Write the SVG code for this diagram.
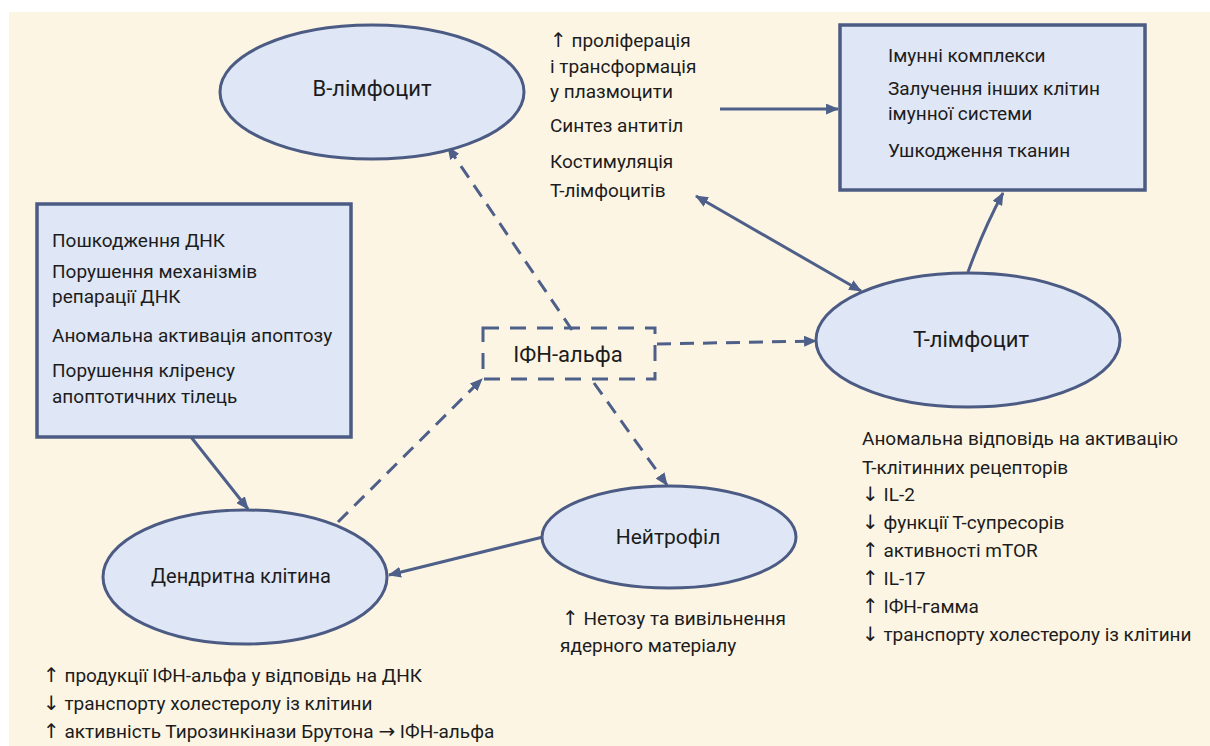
<svg xmlns="http://www.w3.org/2000/svg" width="1210" height="746" viewBox="0 0 1210 746">
<defs>
<style>
.t{font-family:Roboto,"Liberation Sans",Arial,sans-serif;font-size:19px;fill:#1c1c1c}
.lbl{font-family:Roboto,"Liberation Sans",Arial,sans-serif;font-size:22px;fill:#1c1c1c;text-anchor:middle}
.ar{font-family:"DejaVu Sans",sans-serif;font-size:20px;fill:#1c1c1c}
.node{fill:#dfe6f5;stroke:#4b5b83;stroke-width:3}
.box{fill:#dfe6f5;stroke:#4b5b83;stroke-width:3.5}
.c{fill:none;stroke:#4e6089;stroke-width:3}
.d{fill:none;stroke:#4e6089;stroke-width:3;stroke-dasharray:14 9}
</style>
<marker id="ah" viewBox="0 0 12 10" refX="11" refY="5" markerWidth="13" markerHeight="11" markerUnits="userSpaceOnUse" orient="auto-start-reverse">
<path d="M0,0 L12,5 L0,10 Z" fill="#4e6089"/>
</marker>
</defs>
<rect x="0" y="0" width="1210" height="746" fill="#ffffff"/>
<rect x="9" y="12" width="1201" height="734" fill="#fdf5e4"/>

<g id="connectors">
<line class="c" x1="720" y1="109" x2="838" y2="109" marker-end="url(#ah)"/>
<line class="c" x1="696" y1="196" x2="861" y2="291" marker-start="url(#ah)" marker-end="url(#ah)"/>
<path class="c" d="M968,272 Q984,228 1003,193" marker-end="url(#ah)"/>
<line class="c" x1="191" y1="437" x2="248" y2="509" marker-end="url(#ah)"/>
<line class="c" x1="543" y1="537" x2="389" y2="575" marker-end="url(#ah)"/>
<line class="d" x1="572" y1="330" x2="448" y2="147" marker-end="url(#ah)"/>
<line class="d" x1="657" y1="344" x2="816" y2="341" marker-end="url(#ah)"/>
<line class="d" x1="594" y1="383" x2="667" y2="485" marker-end="url(#ah)"/>
<line class="d" x1="338" y1="522" x2="482" y2="379" marker-end="url(#ah)"/>
</g>

<g id="b-lymphocyte">
<ellipse class="node" cx="372" cy="92" rx="152" ry="67"/>
<text class="lbl" x="372" y="96">В-лімфоцит</text>
</g>

<g id="b-effects">
<text class="t" x="550" y="47"><tspan class="ar">↑</tspan> проліферація</text>
<text class="t" x="550" y="73">і трансформація</text>
<text class="t" x="550" y="98">у плазмоцити</text>
<text class="t" x="550" y="132">Синтез антитіл</text>
<text class="t" x="550" y="168">Костимуляція</text>
<text class="t" x="550" y="197">Т-лімфоцитів</text>
</g>

<g id="damage-box">
<rect class="box" x="840" y="25" width="305" height="165"/>
<text class="t" x="888" y="62">Імунні комплекси</text>
<text class="t" x="888" y="95">Залучення інших клітин</text>
<text class="t" x="888" y="120">імунної системи</text>
<text class="t" x="888" y="157">Ушкодження тканин</text>
</g>

<g id="dna-box">
<rect class="box" x="37" y="204" width="314" height="233"/>
<text class="t" x="52" y="247">Пошкодження ДНК</text>
<text class="t" x="52" y="278">Порушення механізмів</text>
<text class="t" x="52" y="303">репарації ДНК</text>
<text class="t" x="52" y="342">Аномальна активація апоптозу</text>
<text class="t" x="52" y="377">Порушення кліренсу</text>
<text class="t" x="52" y="403">апоптотичних тілець</text>
</g>

<g id="ifn-alpha">
<rect x="483" y="328" width="172" height="51" fill="none" stroke="#4e6089" stroke-width="3" stroke-dasharray="16 11"/>
<text class="lbl" x="568" y="362">ІФН-альфа</text>
</g>

<g id="t-lymphocyte">
<ellipse class="node" cx="968" cy="340" rx="152" ry="67"/>
<text class="lbl" x="971" y="347">Т-лімфоцит</text>
</g>

<g id="t-effects">
<text class="t" x="862" y="445">Аномальна відповідь на активацію</text>
<text class="t" x="862" y="474">Т-клітинних рецепторів</text>
<text class="t" x="862" y="501"><tspan class="ar">↓</tspan> IL-2</text>
<text class="t" x="862" y="529"><tspan class="ar">↓</tspan> функції Т-супресорів</text>
<text class="t" x="862" y="557"><tspan class="ar">↑</tspan> активності mTOR</text>
<text class="t" x="862" y="585"><tspan class="ar">↑</tspan> IL-17</text>
<text class="t" x="862" y="613"><tspan class="ar">↑</tspan> ІФН-гамма</text>
<text class="t" x="862" y="641"><tspan class="ar">↓</tspan> транспорту холестеролу із клітини</text>
</g>

<g id="neutrophil">
<ellipse class="node" cx="669" cy="537" rx="127" ry="51"/>
<text class="lbl" x="668" y="544" style="font-size:21px">Нейтрофіл</text>
</g>

<g id="neutrophil-effects">
<text class="t" x="562" y="625"><tspan class="ar">↑</tspan> Нетозу та вивільнення</text>
<text class="t" x="560" y="652">ядерного матеріалу</text>
</g>

<g id="dendritic-cell">
<ellipse class="node" cx="245" cy="577" rx="142" ry="67"/>
<text class="lbl" x="241" y="583" style="font-size:20px">Дендритна клітина</text>
</g>

<g id="dendritic-effects">
<text class="t" x="43" y="682"><tspan class="ar">↑</tspan> продукції ІФН-альфа у відповідь на ДНК</text>
<text class="t" x="43" y="710"><tspan class="ar">↓</tspan> транспорту холестеролу із клітини</text>
<text class="t" x="43" y="738"><tspan class="ar">↑</tspan> активність Тирозинкінази Брутона <tspan class="ar">→</tspan> ІФН-альфа</text>
</g>
</svg>
